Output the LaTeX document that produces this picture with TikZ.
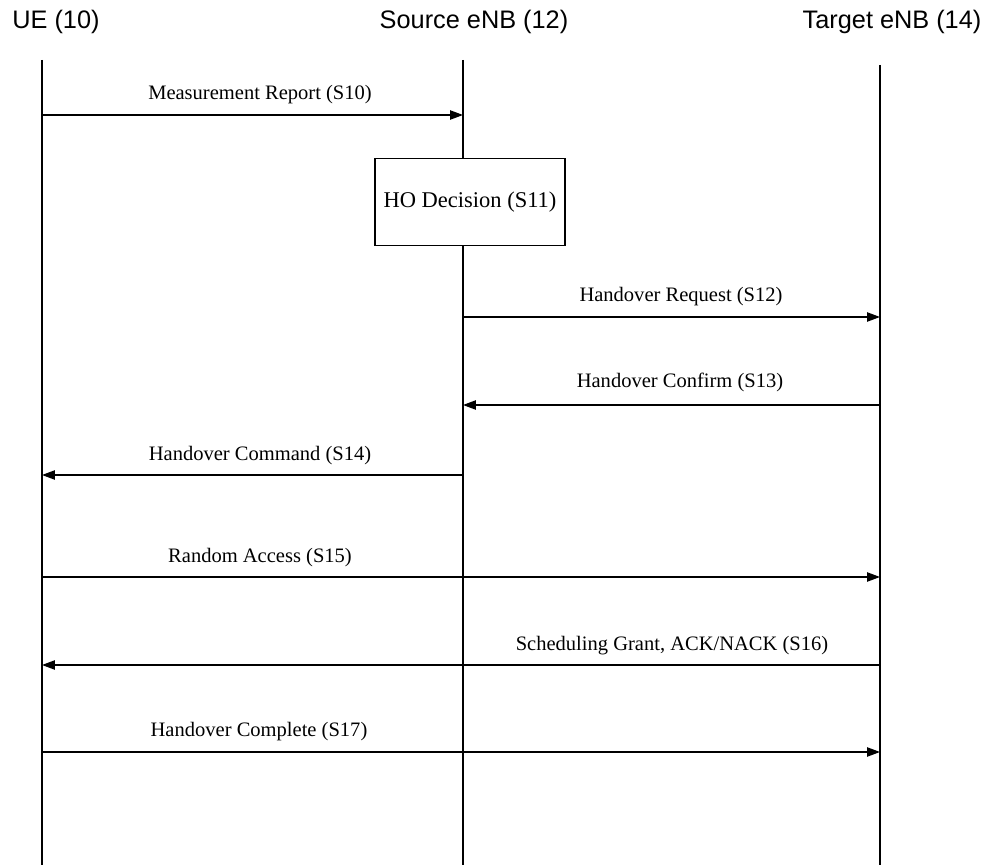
\documentclass[tikz,border=0pt]{standalone}
\usepackage{fontspec}
\setmainfont{Liberation Serif}
\newfontfamily\headfont{Liberation Sans}
\usetikzlibrary{arrows.meta,positioning,calc}

\tikzset{
  head/.style={font=\headfont\fontsize{18}{20}\selectfont,inner sep=0pt},
  life/.style={black,line width=0.8pt},
  msg/.style={black,line width=0.9pt,-{Triangle[length=3.2mm,width=2.3mm]}},
  msglabel/.style={font=\fontsize{14.6}{16}\selectfont,inner sep=0pt,anchor=base},
  decision/.style={draw,line width=0.8pt,fill=white,minimum width=4.75cm,minimum height=2.18cm,font=\fontsize{16}{18}\selectfont}
}

\begin{document}
\begin{tikzpicture}[x=0.025cm,y=-0.025cm]
\useasboundingbox (0,0) rectangle (989,865);
% participants
\node[head] (ueh) at (56,22) {UE (10)};
\node[head] (srch) at (474,22) {Source eNB (12)};
\node[head] (tgth) at (892,22) {Target eNB (14)};
\coordinate (ue) at (42,60);
\coordinate (src) at (463,60);
\coordinate (tgt) at (880,65);
\coordinate (ueb) at (42,865);
\coordinate (srcb) at (463,865);
\coordinate (tgtb) at (880,865);
% lifelines
\draw[life] (ue) -- (ueb);
\draw[life] (src) -- (srcb);
\draw[life] (tgt) -- (tgtb);
% decision box
\node[decision] (hodec) at (470,202) {HO Decision (S11)};
% messages
\node[msglabel] (l10) at (260,100) {Measurement Report (S10)};
\draw[msg] (ue |- 0,115) -- (src |- 0,115);
\node[msglabel] (l12) at (681,302) {Handover Request (S12)};
\draw[msg] (src |- 0,317) -- (tgt |- 0,317);
\node[msglabel] (l13) at (680,388) {Handover Confirm (S13)};
\draw[msg] (tgt |- 0,405) -- (src |- 0,405);
\node[msglabel] (l14) at (260,461) {Handover Command (S14)};
\draw[msg] (src |- 0,475) -- (ue |- 0,475);
\node[msglabel] (l15) at (260,563) {Random Access (S15)};
\draw[msg] (ue |- 0,577) -- (tgt |- 0,577);
\node[msglabel] (l16) at (672,651) {Scheduling Grant, ACK/NACK (S16)};
\draw[msg] (tgt |- 0,665) -- (ue |- 0,665);
\node[msglabel] (l17) at (259,737) {Handover Complete (S17)};
\draw[msg] (ue |- 0,752) -- (tgt |- 0,752);
\end{tikzpicture}
\end{document}
